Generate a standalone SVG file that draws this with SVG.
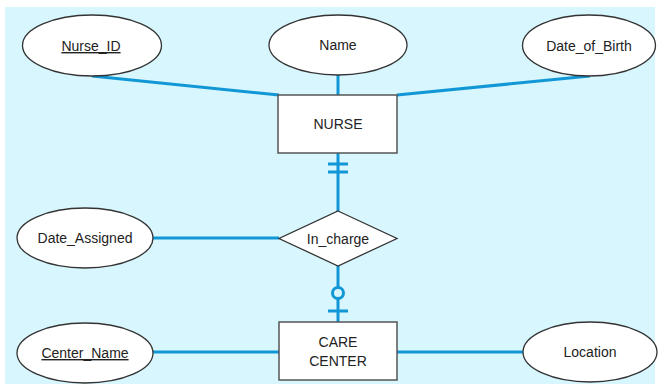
<svg xmlns="http://www.w3.org/2000/svg" width="659" height="386" viewBox="0 0 659 386">
  <style>
    .attr { fill: #ffffff; stroke: #333333; stroke-width: 1.3; }
    .ent { fill: #ffffff; stroke: #555555; stroke-width: 1.5; }
    .lbl { font-family: "Liberation Sans", Arial, sans-serif; font-size: 14px; fill: #222222; text-anchor: middle; }
    .key { text-decoration: underline; }
    .link { stroke: #1297d6; stroke-width: 3; fill: none; }
  </style>
  <!-- page background -->
  <rect x="5" y="7" width="650" height="377" fill="#d8f6fd"/>

  <!-- connectors -->
  <g id="connectors">
    <line class="link" x1="92" y1="76" x2="279" y2="95"/>
    <line class="link" x1="338" y1="75" x2="338" y2="95"/>
    <line class="link" x1="590" y1="76" x2="397" y2="95"/>
    <line class="link" x1="338" y1="153" x2="338" y2="211"/>
    <line class="link" x1="328" y1="164" x2="348" y2="164"/>
    <line class="link" x1="328" y1="172" x2="348" y2="172"/>
    <line class="link" x1="153" y1="238" x2="279" y2="238"/>
    <line class="link" x1="338" y1="266" x2="338" y2="287"/>
    <circle class="link" cx="338" cy="293" r="5.5"/>
    <line class="link" x1="338" y1="298.5" x2="338" y2="322"/>
    <line class="link" x1="328" y1="311" x2="348" y2="311"/>
    <line class="link" x1="153" y1="352" x2="279" y2="352"/>
    <line class="link" x1="397" y1="352" x2="523" y2="352"/>
  </g>

  <!-- NURSE attributes -->
  <g id="nurse-id">
    <ellipse class="attr" cx="92" cy="45.5" rx="69.5" ry="30.5"/>
    <text class="lbl key" x="91" y="51">Nurse_ID</text>
  </g>
  <g id="nurse-name">
    <ellipse class="attr" cx="338" cy="45" rx="69" ry="30"/>
    <text class="lbl" x="338" y="50">Name</text>
  </g>
  <g id="date-of-birth">
    <ellipse class="attr" cx="589" cy="45.5" rx="66.5" ry="30.5"/>
    <text class="lbl" x="589" y="51">Date_of_Birth</text>
  </g>

  <!-- NURSE entity -->
  <g id="nurse">
    <rect class="ent" x="278" y="95" width="119" height="58"/>
    <text class="lbl" x="338" y="129">NURSE</text>
  </g>

  <!-- In_charge relationship -->
  <g id="in-charge">
    <polygon class="attr" points="338,211 397,238.5 338,266 279,238.5"/>
    <text class="lbl" x="338" y="243.5">In_charge</text>
  </g>
  <g id="date-assigned">
    <ellipse class="attr" cx="85" cy="238" rx="68" ry="30"/>
    <text class="lbl" x="85" y="243">Date_Assigned</text>
  </g>

  <!-- CARE CENTER entity -->
  <g id="care-center">
    <rect class="ent" x="279" y="322" width="118" height="58"/>
    <text class="lbl" x="338" y="347">CARE</text>
    <text class="lbl" x="338" y="366">CENTER</text>
  </g>
  <g id="center-name">
    <ellipse class="attr" cx="85" cy="353" rx="68" ry="30"/>
    <text class="lbl key" x="85" y="358">Center_Name</text>
  </g>
  <g id="location">
    <ellipse class="attr" cx="590" cy="352" rx="67" ry="30"/>
    <text class="lbl" x="590" y="357">Location</text>
  </g>
</svg>
